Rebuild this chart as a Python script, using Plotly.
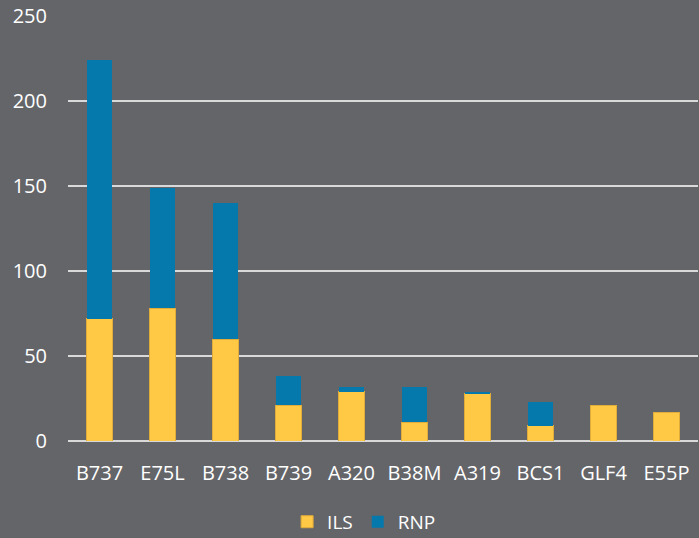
import plotly.graph_objects as go

categories = ["B737", "E75L", "B738", "B739", "A320", "B38M", "A319", "BCS1", "GLF4", "E55P"]
ils = [72, 78, 60, 21, 29, 11, 28, 9, 21, 17]
rnp = [152, 71, 80, 17, 3, 21, 1, 14, 0, 0]
y_ticks = [0, 50, 100, 150, 200, 250]

bg = "#646569"
fig = go.Figure()
fig.add_trace(go.Bar(x=categories, y=ils, name="ILS",
                     marker=dict(color="#FFC845", line=dict(color="#E0AC3A", width=1))))
fig.add_trace(go.Bar(x=categories, y=rnp, name="RNP",
                     marker=dict(color="#0679AC", line=dict(width=0))))

fig.update_layout(
    barmode="stack",
    bargap=0.6,
    width=699, height=538,
    margin=dict(l=68, r=1, t=16, b=97, autoexpand=False),
    paper_bgcolor=bg, plot_bgcolor=bg,
    font=dict(family="Open Sans", color="#FFFFFF", size=20),
    showlegend=True,
    legend=dict(orientation="h", x=0.47, xanchor="center",
                yref="container", y=0.03, yanchor="middle",
                font=dict(size=19), itemwidth=30, traceorder="normal"),
    xaxis=dict(showgrid=False, showline=False, ticks="", tickfont=dict(size=20),
               ticklabelstandoff=18, automargin=False),
    yaxis=dict(range=[0, 250], tickvals=y_ticks, showgrid=True, gridcolor="#D9D9D9",
               gridwidth=1.5, zeroline=True, zerolinecolor="#D9D9D9", zerolinewidth=1.5,
               showline=False, ticks="", ticklabelstandoff=20, tickfont=dict(size=20),
               automargin=False),
)
fig.write_html("out.html", config={"displayModeBar": False},
               post_script="document.body.style.margin='0';")
